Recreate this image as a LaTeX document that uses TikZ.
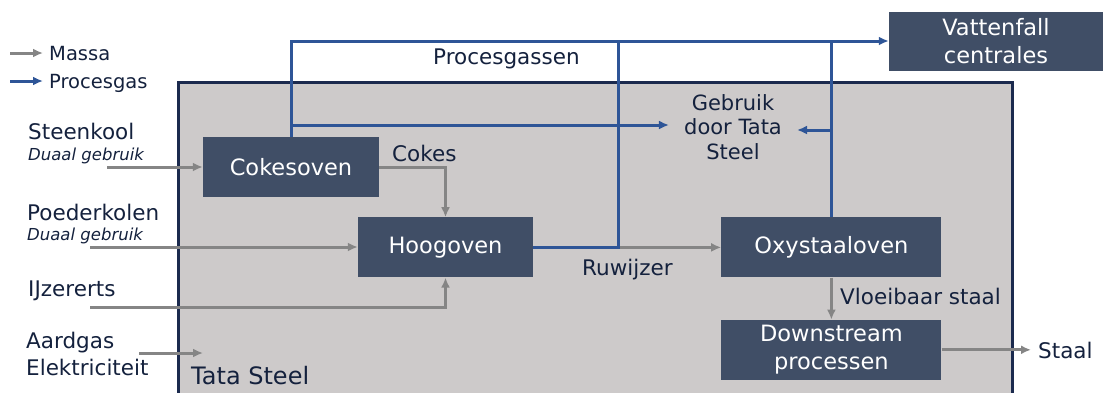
\documentclass[tikz,border=0pt]{standalone}
\usepackage{fontspec}
\setmainfont{DejaVu Sans}
\usepackage{xcolor}
\usetikzlibrary{arrows.meta, positioning}
\definecolor{leisteen}{HTML}{404E66}
\definecolor{gasblauw}{HTML}{2E5597}
\definecolor{massagrijs}{HTML}{858585}
\definecolor{inkt}{HTML}{14213D}
\definecolor{tatagrijs}{HTML}{CDCACA}
\definecolor{tatarand}{HTML}{1B2A4E}
\tikzset{
    oven/.style   = {fill=leisteen, text=white, font=\fontsize{22.5}{28}\selectfont,
                     align=center, inner sep=0pt},
    massa/.style  = {-{Latex[length=10pt,width=9pt]}, line width=3pt, massagrijs},
    gas/.style    = {-{Latex[length=10pt,width=9pt]}, line width=3pt, gasblauw},
    tekst/.style  = {text=inkt, font=\fontsize{21.5}{24}\selectfont, inner sep=0pt, anchor=base west},
    klein/.style  = {tekst, font=\fontsize{16.5}{20}\selectfont\itshape},
}

\begin{document}
\begin{tikzpicture}[x=1pt, y=-1pt]
        \useasboundingbox (0,0) rectangle (1103,392);
        % Tata Steel kader
        \draw[fill=tatagrijs, draw=tatarand, line width=3pt] (178,82) rectangle (1012,410);
        \node[tekst, font=\fontsize{24}{28}\selectfont] (tata) at (191,384) {Tata Steel};
        % legenda
        \coordinate (legA) at (10,53);
        \coordinate (legB) at (10,81);
        \node[tekst, font=\fontsize{19.5}{22}\selectfont] (massalbl) at (49,60) {Massa};
        \node[tekst, font=\fontsize{19.5}{22}\selectfont] (gaslbl) at (49,88) {Procesgas};
        \draw[massa] (legA) -- ([xshift=-6pt]massalbl.west |- legA);
        \draw[gas] (legB) -- ([xshift=-6pt]gaslbl.west |- legB);
        % ovens
        \node[oven, minimum width=176pt, minimum height=60pt] (cokes) at (291,167) {Cokesoven};
        \node[oven, minimum width=175pt, minimum height=60pt, below=20pt of cokes, xshift=154.5pt] (hoog) {Hoogoven};
        \node[oven, minimum width=220pt, minimum height=60pt, right=188pt of hoog] (oxy) {Oxystaaloven};
        \node[oven, minimum width=220pt, minimum height=60pt, below=42pt of oxy] (down) {Downstream\\processen};
        \node[oven, minimum width=214pt, minimum height=59pt] (vatt) at (996,41) {Vattenfall\\centrales};
        \node[text=inkt, align=center, font=\fontsize{21}{24.5}\selectfont, inner xsep=15pt] (gebruik) at (733,127) {Gebruik\\door Tata\\Steel};
        % invoer
        \node[tekst] (steen) at (28,139) {Steenkool};
        \node[klein] (steensub) at (28,160) {Duaal gebruik};
        \node[tekst] (poeder) at (27,220) {Poederkolen};
        \node[klein] (poedersub) at (27,240) {Duaal gebruik};
        \node[tekst] (erts) at (28,296) {IJzererts};
        \node[tekst] (aard) at (26,348) {Aardgas};
        \node[tekst] (elek) at (26,375) {Elektriciteit};
        \coordinate (steenin) at (107,167);
        \coordinate (poederin) at (90,247);
        \coordinate (ertsin) at (90,307);
        \coordinate (aardin) at (139,353);
        \coordinate (aarduit) at (203,353);
        % labels
        \node[tekst] (cokeslbl) at (392,161) {Cokes};
        \node[tekst] (ruw) at (582,275) {Ruwijzer};
        \node[tekst] (vloei) at (840,304) {Vloeibaar staal};
        \node[tekst] (staal) at (1038,358) {Staal};
        \node[tekst] (procgas) at (433,64) {Procesgassen};
        % massa
        \coordinate (knik) at (618,42);
        \coordinate (splits) at (knik |- hoog.east);
        \draw[massa] (steenin) -- (cokes.west |- steenin);
        \draw[massa] (poederin) -- (hoog.west |- poederin);
        \draw[massa] (ertsin) -| (hoog.south);
        \draw[massa] (aardin) -- (aarduit);
        \draw[massa] (cokes.east) -| (hoog.north);
        \draw[massa] (splits) -- (oxy.west);
        \draw[massa] (oxy.south) -- (down.north);
        \draw[massa] (down.east) -- ([xshift=-7pt]staal.west |- down.east);
        % procesgassen
        \draw[gas] (cokes.north) |- (vatt.west);
        \draw[gas, -] (hoog.east) -- (splits) -- (knik);
        \draw[gas, -] (oxy.north) -- (oxy.north |- vatt.west);
        \draw[gas] (cokes.north |- gebruik.west) ++(0,-2) -- ([yshift=2pt]gebruik.west);
        \draw[gas] (oxy.north |- gebruik.east) ++(0,3) -- ([yshift=-3pt]gebruik.east);
    \end{tikzpicture}
\end{document}
